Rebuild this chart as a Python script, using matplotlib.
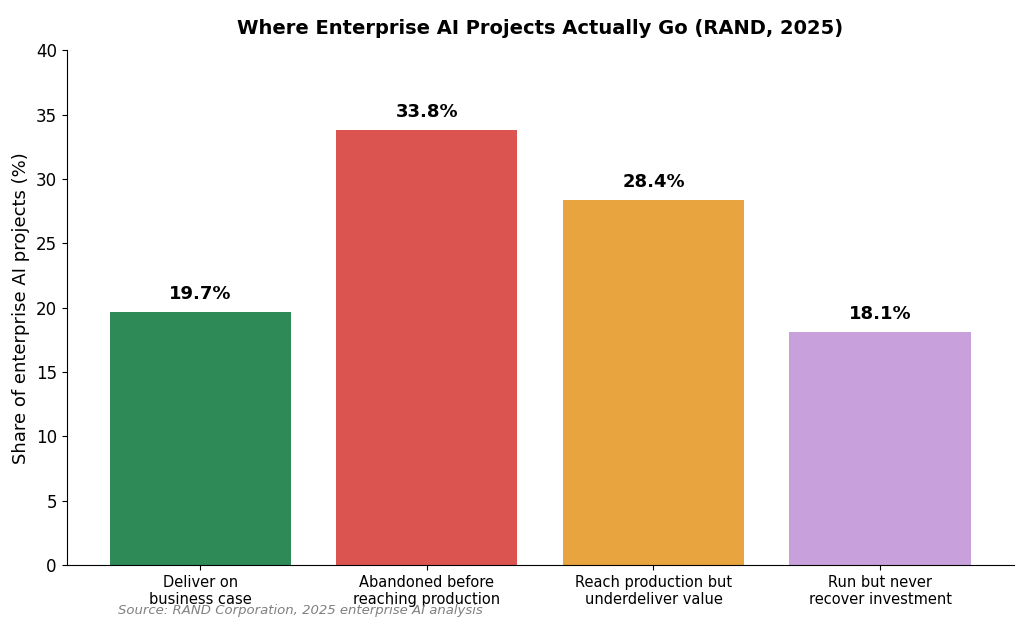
import matplotlib.pyplot as plt

categories = ["Deliver on\nbusiness case", "Abandoned before\nreaching production",
              "Reach production but\nunderdeliver value", "Run but never\nrecover investment"]
shares = [19.7, 33.8, 28.4, 18.1]
colors = ["#2e8b57", "#dc5450", "#e8a43e", "#c8a0dc"]

fig, ax = plt.subplots(figsize=(10.24, 6.28), dpi=100)
bars = ax.bar(categories, shares, color=colors, width=0.8)
for b, v in zip(bars, shares):
    ax.text(b.get_x() + b.get_width() / 2, v + 0.7, f"{v}%", ha="center", va="bottom",
            fontsize=13, fontweight="bold")

ax.set_ylim(0, 40)
ax.set_ylabel("Share of enterprise AI projects (%)", fontsize=13)
ax.set_title("Where Enterprise AI Projects Actually Go (RAND, 2025)", fontsize=14,
             fontweight="bold", pad=12)
ax.tick_params(axis="y", labelsize=12)
ax.tick_params(axis="x", labelsize=10.5)
ax.spines["top"].set_visible(False)
ax.spines["right"].set_visible(False)
fig.text(0.115, 0.022, "Source: RAND Corporation, 2025 enterprise AI analysis",
         fontsize=9.5, style="italic", color="gray")
fig.subplots_adjust(left=0.065, right=0.99, top=0.92, bottom=0.1)
fig.savefig("out.png")
